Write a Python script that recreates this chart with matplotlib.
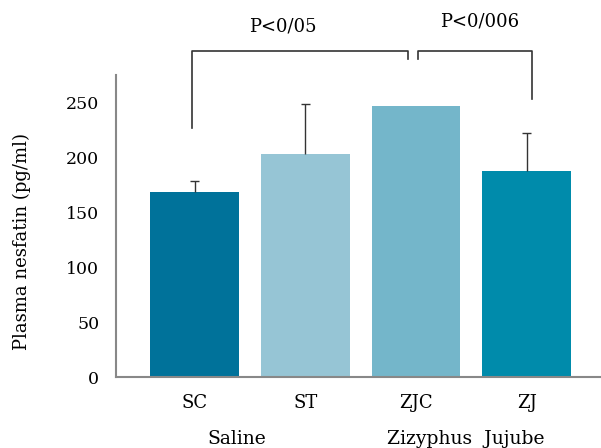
import matplotlib.pyplot as plt
import numpy as np

groups = ['SC', 'ST', 'ZJC', 'ZJ']
means = [169, 203, 247, 188]
upper_err = [10, 46, 0, 34]
colors = ['#00729a', '#96c5d5', '#74b6ca', '#008bab']
yticks = [0, 50, 100, 150, 200, 250]

plt.rcParams['font.family'] = ['DejaVu Serif']

fig = plt.figure(figsize=(6.01, 4.48), dpi=100)
ax = fig.add_axes([0.193, 0.158, 0.805, 0.674])

x = np.arange(len(groups))
ax.bar(x, means, width=0.8, color=colors)

# upper error bars only
for xi, m, e in zip(x, means, upper_err):
    if e > 0:
        ax.vlines(xi, m, m + e, color='#333333', lw=1)
        ax.hlines(m + e, xi - 0.04, xi + 0.04, color='#333333', lw=1)

ax.set_xlim(-0.71, 3.66)
ax.set_ylim(0, 275)
ax.set_yticks(yticks)
ax.set_xticks(x)
ax.set_xticklabels(groups, fontsize=13)
ax.tick_params(axis='y', labelsize=12.5, length=0, pad=12)
ax.tick_params(axis='x', length=0, pad=12)
for s in ['top', 'right']:
    ax.spines[s].set_visible(False)
for s in ['left', 'bottom']:
    ax.spines[s].set_color('#888888')
    ax.spines[s].set_linewidth(1.5)

ax.set_ylabel('Plasma nesfatin (pg/ml)', fontsize=13)
ax.yaxis.set_label_coords(-0.175, 0.45)

# significance brackets
ax.plot([-0.02, -0.02, 1.93, 1.93], [227, 297, 297, 290], color='#333333', lw=1.2, clip_on=False)
ax.plot([2.02, 2.02, 3.05, 3.05], [290, 297, 297, 253], color='#333333', lw=1.2, clip_on=False)
ax.text(0.8, 319, 'P<0/05', ha='center', va='center', fontsize=13)
ax.text(2.57, 324, 'P<0/006', ha='center', va='center', fontsize=13)

# group labels
ax.text(0.38, -0.22, 'Saline', transform=ax.get_xaxis_transform(),
        ha='center', va='baseline', fontsize=13.5)
ax.text(2.45, -0.22, 'Zizyphus  Jujube', transform=ax.get_xaxis_transform(),
        ha='center', va='baseline', fontsize=13.5)

fig.savefig('out.png', dpi=100)
